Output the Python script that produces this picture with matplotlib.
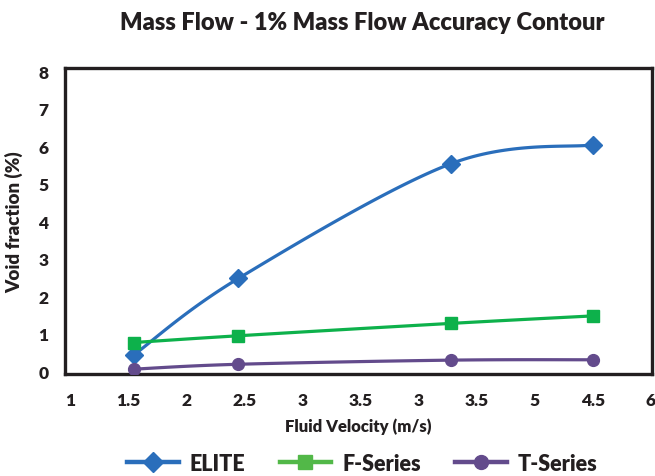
import numpy as np
import matplotlib
matplotlib.use("Agg")
import matplotlib.pyplot as plt
from matplotlib.lines import Line2D

# ---- data ----
x_pos = [1.55, 2.45, 4.28, 5.50]
elite = [0.43, 2.47, 5.53, 6.03]
f_series = [0.76, 0.94, 1.27, 1.47]
t_series = [0.05, 0.18, 0.29, 0.30]
x_ticks = [1, 1.5, 2, 2.5, 3, 3.5, 4, 4.5, 5, 5.5, 6]
x_tick_labels = ["1", "1.5", "2", "2.5", "3", "3.5", "3", "3.5", "5", "4.5", "6"]
y_ticks = [0, 1, 2, 3, 4, 5, 6, 7, 8]
series_names = ["ELITE", "F-Series", "T-Series"]
colors = ["#2a6ebb", "#0db14b", "#634b8c"]
legend_colors = ["#2a6ebb", "#52b848", "#634b8c"]
markers = ["D", "s", "o"]

FONT = ["Lato", "DejaVu Sans"]
W = "heavy"
plt.rcParams["font.family"] = FONT


def smooth(xs, ys, n=40):
    """Excel-style Bezier smoothing through points."""
    P = np.column_stack([xs, ys]).astype(float)
    out = []
    for i in range(len(P) - 1):
        p0 = P[i - 1] if i > 0 else P[i]
        p1 = P[i]
        p2 = P[i + 1]
        p3 = P[i + 2] if i + 2 < len(P) else P[i + 1]
        c1 = p1 + (p2 - p0) / 6.0
        c2 = p2 - (p3 - p1) / 6.0
        t = np.linspace(0, 1, n)[:, None]
        seg = ((1 - t) ** 3) * p1 + 3 * ((1 - t) ** 2) * t * c1 + 3 * (1 - t) * t ** 2 * c2 + t ** 3 * p2
        out.append(seg if i == 0 else seg[1:])
    S = np.vstack(out)
    return S[:, 0], S[:, 1]


fig = plt.figure(figsize=(6.55, 4.77), dpi=100)
ax = fig.add_axes([0.0992, 0.2138, 0.8962, 0.6415])

msizes = [9, 8.5, 8.5]
for ys, c, m, ms in zip([elite, f_series, t_series], colors, markers, msizes):
    sx, sy = smooth(x_pos, ys)
    ax.plot(sx, sy, color=c, lw=2.3, solid_capstyle="round", zorder=2)
    ax.plot(x_pos, ys, linestyle="none", marker=m, ms=ms, color=c, mec=c, zorder=3)

ax.set_xlim(0.957, 6.009)
ax.set_ylim(-0.08, 8.08)
ax.set_xticks(x_ticks)
ax.set_xticklabels(x_tick_labels)
ax.set_yticks(y_ticks)
ax.tick_params(axis="both", length=0, labelsize=12.5, colors="#231f20")
ax.tick_params(axis="x", pad=13)
ax.tick_params(axis="y", pad=12)
for lbl in ax.get_xticklabels() + ax.get_yticklabels():
    lbl.set_fontweight(W)
for sp in ax.spines.values():
    sp.set_linewidth(2.4)
    sp.set_color("#231f20")

ax.set_xlabel("Fluid Velocity (m/s)", fontsize=12, fontweight=W, color="#231f20", labelpad=7)
ax.set_ylabel("Void fraction (%)", fontsize=13.5, fontweight=W, color="#231f20", labelpad=11)
fig.text(0.553, 0.952, "Mass Flow - 1% Mass Flow Accuracy Contour", ha="center", va="center",
         fontsize=17, fontweight=W, color="#231f20")

handles = [Line2D([0], [0], color=c, lw=3.2, marker=m, ms=ms + 1.5, mec=c)
           for c, m, ms in zip(legend_colors, markers, msizes)]
leg = fig.legend(handles, series_names, loc="center", bbox_to_anchor=(0.553, 0.027), ncol=3,
                 frameon=False, handlelength=2.4, columnspacing=1.6, handletextpad=0.5,
                 prop={"family": FONT, "weight": W, "size": 15.5})
for t in leg.get_texts():
    t.set_color("#231f20")

fig.savefig("out.png", dpi=100)
